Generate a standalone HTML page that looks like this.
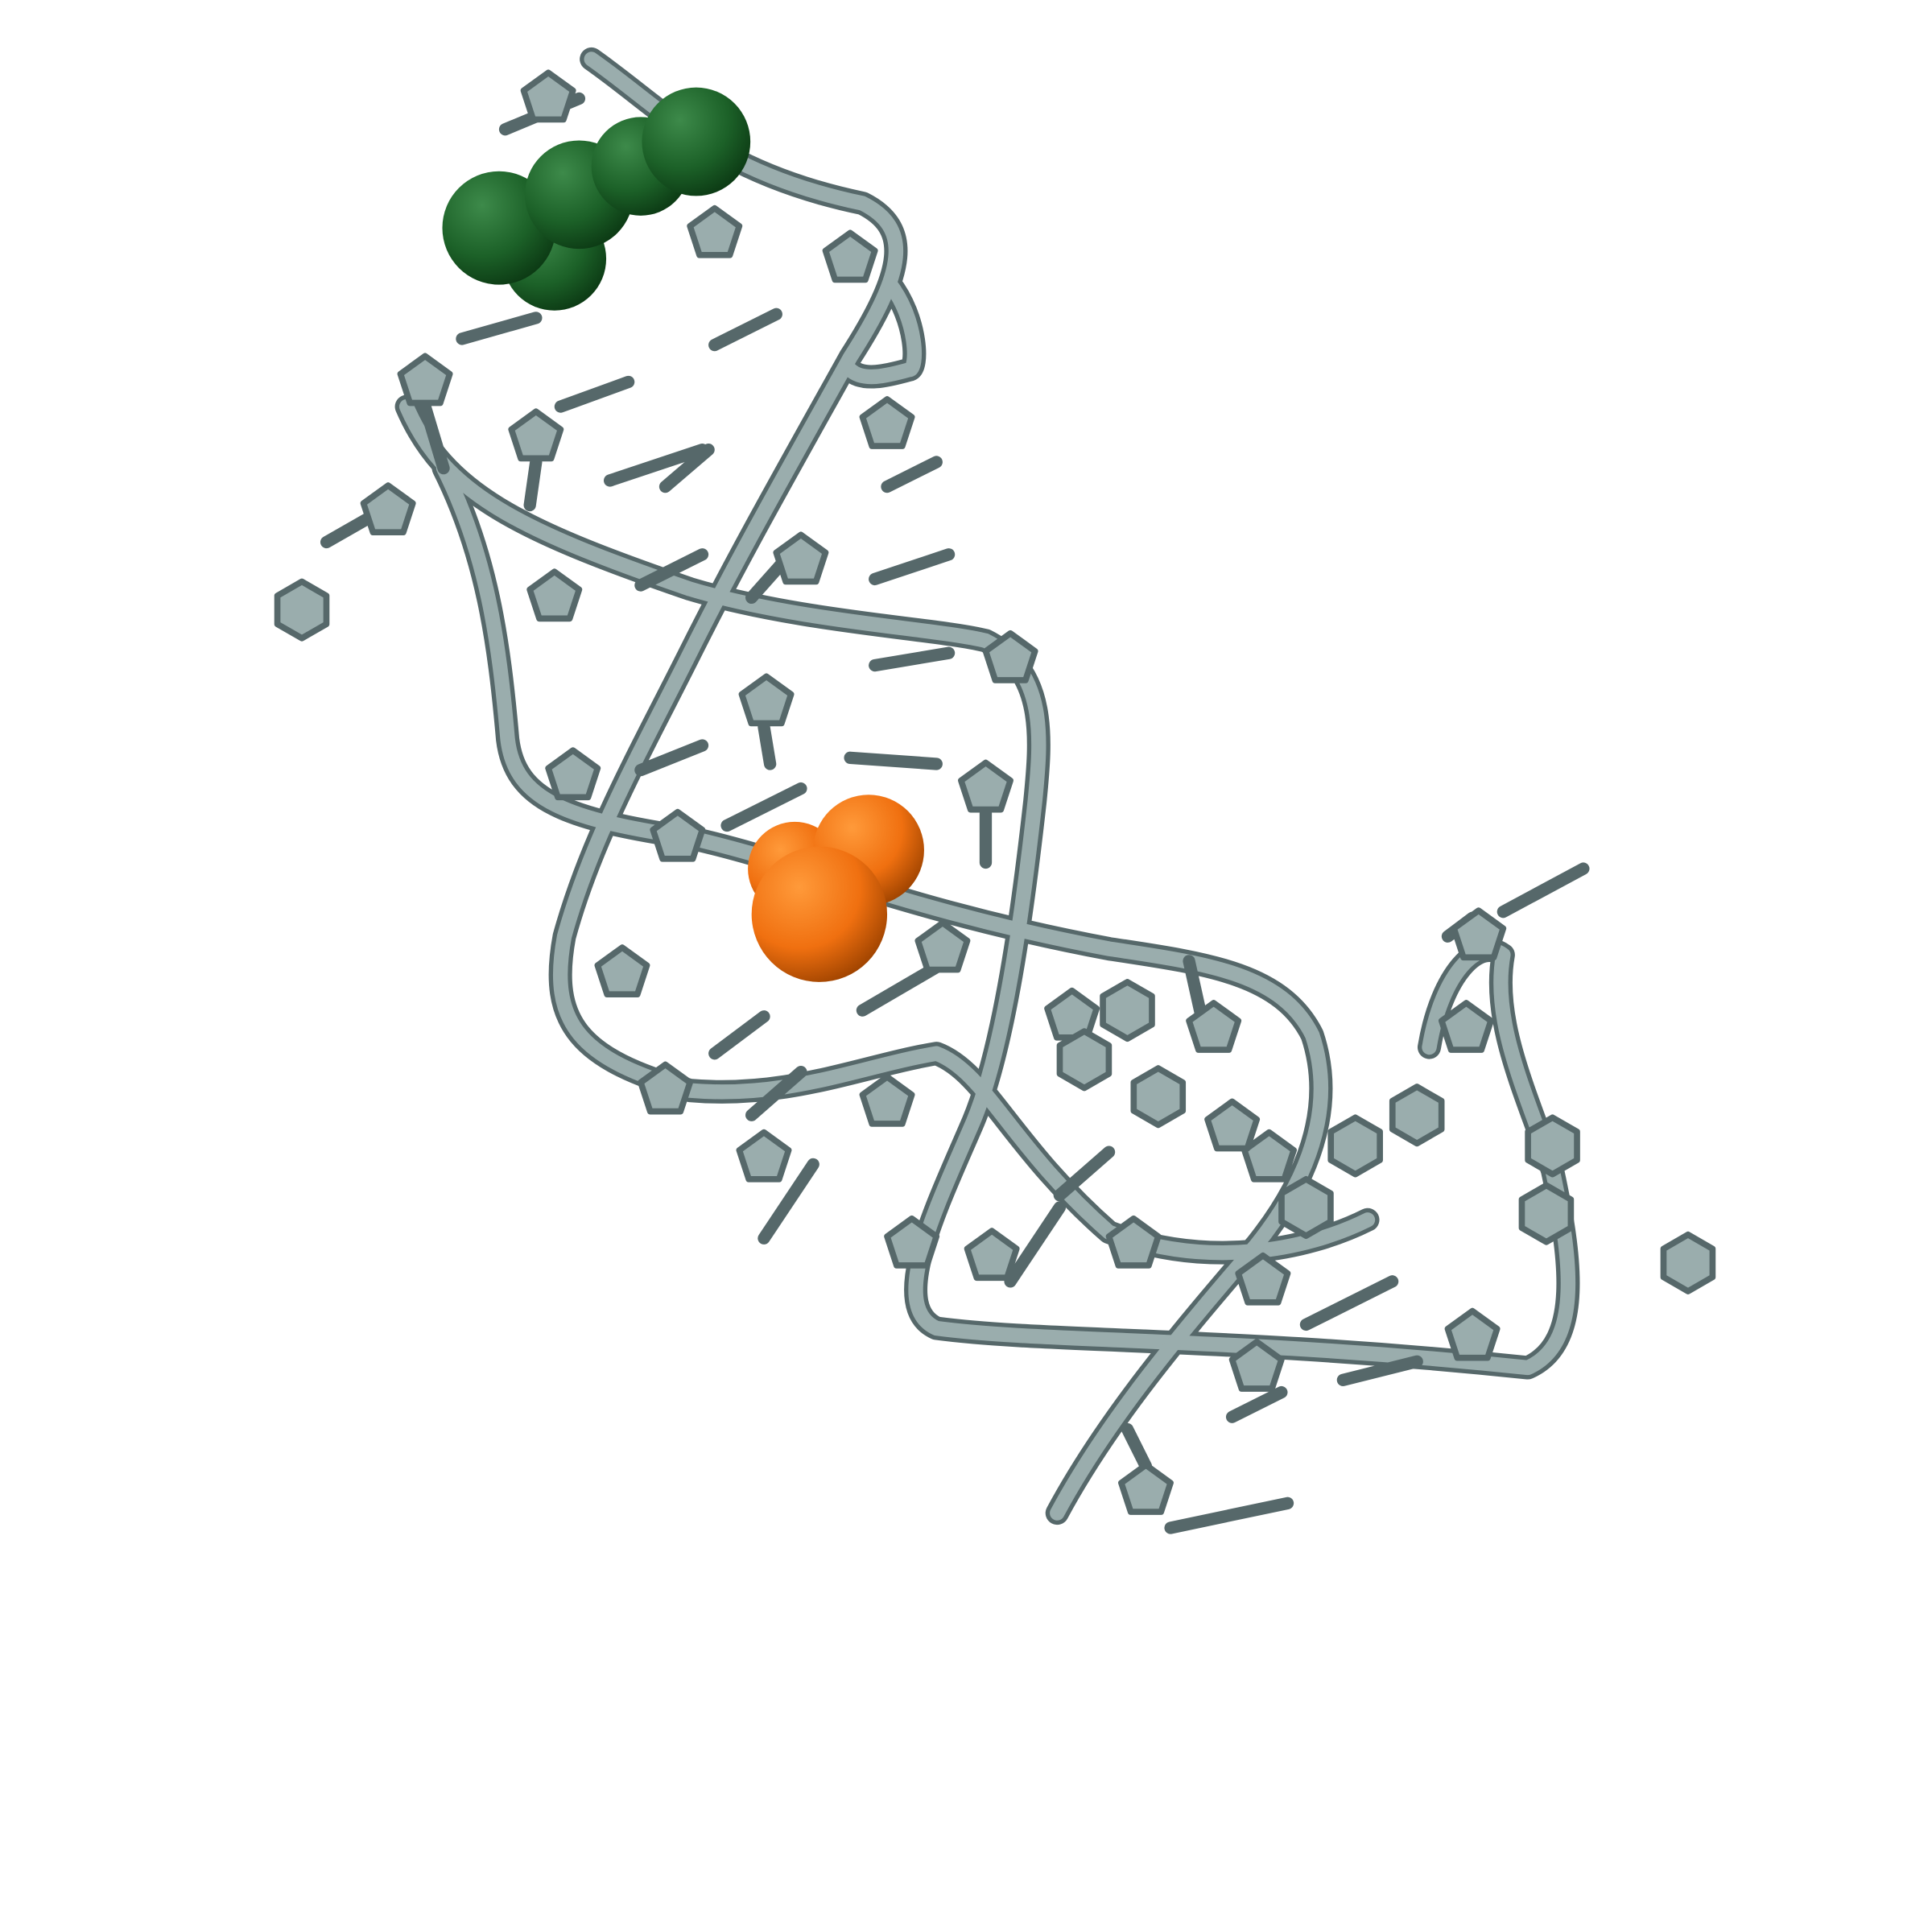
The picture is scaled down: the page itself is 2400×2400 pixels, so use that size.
<!DOCTYPE html>
<html><head><meta charset="utf-8"><style>
html,body{margin:0;padding:0;background:#fff;width:2400px;height:2400px;overflow:hidden}
svg{display:block}
</style></head><body>
<svg width="2400" height="2400" viewBox="0 0 1568 1568" xmlns="http://www.w3.org/2000/svg">
<defs>
<radialGradient id="gg" cx="0.35" cy="0.3" r="0.75"><stop offset="0" stop-color="#3d8a4a"/><stop offset="0.6" stop-color="#1c6128"/><stop offset="1" stop-color="#0c3a14"/></radialGradient>
<radialGradient id="og" cx="0.35" cy="0.3" r="0.75"><stop offset="0" stop-color="#ff9a3a"/><stop offset="0.6" stop-color="#f07010"/><stop offset="1" stop-color="#a04400"/></radialGradient>
</defs>
<g fill="none" stroke-linecap="round" stroke-linejoin="round">
<g stroke="#56686a" stroke-width="19">
<path d="M480,48 C540,90 580,140 700,165 C740,185 735,220 690,290 C640,380 600,450 560,530 C520,610 480,680 458,760 C445,830 470,860 560,885 C640,892 700,865 760,855 C800,870 820,930 900,1000 C980,1030 1060,1015 1110,990"/>
<path d="M330,330 C360,400 420,430 560,478 C650,505 760,510 800,520 C850,545 845,600 840,650 C830,740 815,850 790,910 C760,980 720,1060 760,1078 C850,1090 1000,1085 1240,1110 C1285,1090 1275,1020 1260,950 C1240,890 1210,830 1220,775 C1200,760 1170,790 1160,850"/>
<path d="M360,380 C395,450 405,520 412,600 C418,650 460,665 560,680 C650,700 740,740 900,770 C980,782 1040,790 1065,840 C1085,900 1060,960 1020,1010 C960,1080 900,1150 858,1228"/>
<path d="M722,230 C745,260 745,300 738,300 C720,305 700,310 690,300"/>
</g>
<g stroke="#9aadad" stroke-width="12">
<path d="M480,48 C540,90 580,140 700,165 C740,185 735,220 690,290 C640,380 600,450 560,530 C520,610 480,680 458,760 C445,830 470,860 560,885 C640,892 700,865 760,855 C800,870 820,930 900,1000 C980,1030 1060,1015 1110,990"/>
<path d="M330,330 C360,400 420,430 560,478 C650,505 760,510 800,520 C850,545 845,600 840,650 C830,740 815,850 790,910 C760,980 720,1060 760,1078 C850,1090 1000,1085 1240,1110 C1285,1090 1275,1020 1260,950 C1240,890 1210,830 1220,775 C1200,760 1170,790 1160,850"/>
<path d="M360,380 C395,450 405,520 412,600 C418,650 460,665 560,680 C650,700 740,740 900,770 C980,782 1040,790 1065,840 C1085,900 1060,960 1020,1010 C960,1080 900,1150 858,1228"/>
<path d="M722,230 C745,260 745,300 738,300 C720,305 700,310 690,300"/>
</g>
</g>
<g id="bases" fill="#9aadad" stroke="#56686a" stroke-width="5" stroke-linejoin="round" stroke-linecap="round"></g>
<g stroke="none">
<circle cx="450" cy="210" r="42" fill="url(#gg)"/>
<circle cx="405" cy="185" r="46" fill="url(#gg)"/>
<circle cx="470" cy="158" r="44" fill="url(#gg)"/>
<circle cx="520" cy="135" r="40" fill="url(#gg)"/>
<circle cx="565" cy="115" r="44" fill="url(#gg)"/>
</g>
<g stroke="none">
<circle cx="645" cy="705" r="38" fill="url(#og)"/>
<circle cx="705" cy="690" r="45" fill="url(#og)"/>
<circle cx="665" cy="742" r="55" fill="url(#og)"/>
</g>
</svg>
<script>
const pentas=[[445,80],[580,190],[345,310],[435,355],[315,415],[450,485],[690,210],[720,345],[650,455],[622,570],[820,535],[800,640],[465,630],[550,680],[505,790],[765,770],[870,825],[985,835],[1200,760],[1190,835],[1030,940],[1000,915],[920,1010],[805,1020],[740,1010],[1025,1040],[1020,1110],[1195,1085],[930,1210],[620,940],[540,885],[720,895]];
const hexes=[[245,495],[915,820],[880,860],[940,890],[1150,905],[1260,930],[1255,985],[1370,1025],[1100,930],[1060,980]];
const sticks=[[410,105,470,80],[375,275,435,258],[455,330,510,310],[495,390,570,365],[580,280,630,255],[520,475,570,450],[710,470,770,450],[710,540,770,530],[520,625,570,605],[590,670,650,640],[720,395,760,375],[580,855,620,825],[610,905,650,870],[620,1005,660,945],[820,1040,860,980],[860,970,900,935],[1060,1075,1130,1040],[1090,1120,1150,1105],[1000,1150,1040,1130],[950,1240,1045,1220],[1220,740,1285,705],[700,820,760,785],[540,395,575,365],[610,485,650,440],[690,615,760,620],[345,330,360,380],[435,375,430,410],[265,440,300,420],[620,590,625,620],[800,660,800,700],[965,780,975,825],[1175,760,1195,745],[930,1190,915,1160]];
const g=document.getElementById('bases');
const NS='http://www.w3.org/2000/svg';
function poly(cx,cy,n,r){let p=[];for(let i=0;i<n;i++){const a=-Math.PI/2+i*2*Math.PI/n;p.push((cx+r*Math.cos(a)).toFixed(1)+','+(cy+r*Math.sin(a)).toFixed(1));}return p.join(' ');}
sticks.forEach(([a,b,c,d])=>{const e=document.createElementNS(NS,'line');e.setAttribute('x1',a);e.setAttribute('y1',b);e.setAttribute('x2',c);e.setAttribute('y2',d);e.setAttribute('stroke-width','10');


g.appendChild(e);});
pentas.forEach(([x,y])=>{const e=document.createElementNS(NS,'polygon');e.setAttribute('points',poly(x,y,5,21));


g.appendChild(e);});
hexes.forEach(([x,y])=>{const e=document.createElementNS(NS,'polygon');e.setAttribute('points',poly(x,y,6,23));


g.appendChild(e);});
</script>
</body></html>
